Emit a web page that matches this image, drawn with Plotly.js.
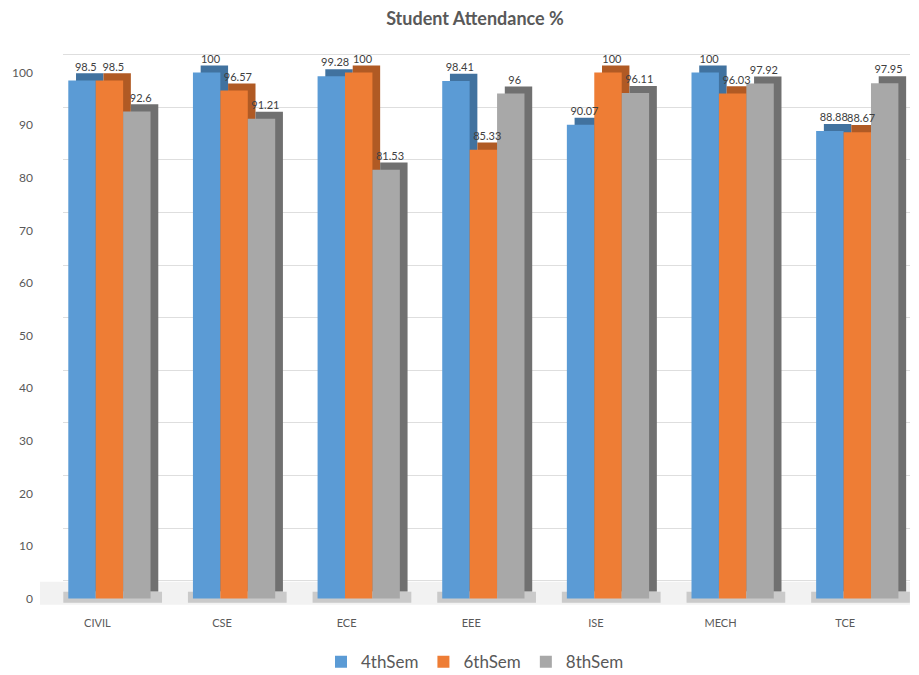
<!DOCTYPE html>
<html>
<head>
<meta charset="utf-8">
<script src="https://cdn.plot.ly/plotly-3.0.1.min.js"></script>
<style>html,body{margin:0;padding:0;background:#fff;}#chart{width:919px;height:675px;}</style>
</head>
<body>
<div id="chart"></div>
<script>
const categories = ["CIVIL", "CSE", "ECE", "EEE", "ISE", "MECH", "TCE"];
const sem4 = [98.5, 100, 99.28, 98.41, 90.07, 100, 88.88];
const sem6 = [98.5, 96.57, 100, 85.33, 100, 96.03, 88.67];
const sem8 = [92.6, 91.21, 81.53, 96, 96.11, 97.92, 97.95];
const seriesNames = ["4thSem", "6thSem", "8thSem"];
const yTicks = [0, 10, 20, 30, 40, 50, 60, 70, 80, 90, 100];

const frontColors = ["#5b9bd5", "#ee7d35", "#a8a8a8"];
const sideColors = ["#41729f", "#b05a24", "#707070"];
const series = [sem4, sem6, sem8];
const offsets = [-0.233, -0.013, 0.207];
const w = 0.22, dx = 0.062, dy = 1.35;
const xs = categories.map((c, i) => i);

const traces = [];
traces.push({x: [0.5], y: [50], type: 'scatter', mode: 'markers', marker: {opacity: 0},
  xaxis: 'x', yaxis: 'y', showlegend: false, hoverinfo: 'skip'});

series.forEach((vals, s) => {
  traces.push({
    type: 'bar', x: xs, y: vals, base: dy, offset: offsets[s] + dx, width: w,
    marker: {color: sideColors[s], line: {width: 0}},
    xaxis: 'x2', yaxis: 'y2', showlegend: false, hoverinfo: 'skip'
  });
  traces.push({
    type: 'bar', x: xs, y: vals, offset: offsets[s], width: w, name: seriesNames[s],
    marker: {color: frontColors[s], line: {width: 0}},
    xaxis: 'x2', yaxis: 'y2'
  });
});

series.forEach((vals, s) => {
  traces.push({
    type: 'scatter', mode: 'text', xaxis: 'x2', yaxis: 'y2', showlegend: false, hoverinfo: 'skip',
    x: xs.map(i => i + offsets[s] + w / 2 + dx / 2),
    y: vals.map(v => v + dy),
    text: vals.map(v => String(v)),
    textposition: 'top center',
    textfont: {family: 'Lato, sans-serif', size: 11, color: '#404040'},
    cliponaxis: false
  });
});

const shapes = [{
  type: 'rect', xref: 'paper', yref: 'y2', x0: 0, x1: 1, y0: -1.2, y1: 3.2,
  fillcolor: '#f2f2f2', line: {width: 0}, layer: 'below'
}];
xs.forEach(i => {
  shapes.push({
    type: 'rect', xref: 'x2', yref: 'y2',
    x0: i + offsets[0] - 0.04, x1: i + offsets[2] + w + dx + 0.03, y0: -0.8, y1: 1.3,
    fillcolor: '#9a9a9a', opacity: 0.45, line: {width: 0}, layer: 'below'
  });
});

const layout = {
  width: 919, height: 675,
  margin: {l: 40, r: 9, t: 41, b: 65.5},
  paper_bgcolor: '#ffffff', plot_bgcolor: 'rgba(0,0,0,0)',
  font: {family: 'Lato, sans-serif', color: '#595959'},
  title: {text: '<b>Student Attendance %</b>', xref: 'paper', x: 0.5, y: 0.973, yanchor: 'middle',
    font: {family: 'Lato, sans-serif', size: 18, color: '#595959'}},
  barmode: 'overlay',
  xaxis: {domain: [0.027, 1], range: [0, 1], visible: false, fixedrange: true},
  yaxis: {domain: [0, 1], range: [-5.4, 102.6], tickmode: 'array', tickvals: yTicks,
    showgrid: true, gridcolor: '#dedede', gridwidth: 1, showticklabels: false,
    zeroline: false, showline: false, ticks: ''},
  xaxis2: {domain: [0, 1], range: [-0.46, 6.52], anchor: 'y2', tickmode: 'array',
    tickvals: xs, ticktext: categories, showgrid: false, zeroline: false, showline: false,
    ticks: '', automargin: false, ticklabelstandoff: 6, tickfont: {size: 11, color: '#595959'}},
  yaxis2: {domain: [0, 1], range: [-2, 106], anchor: 'x2', tickmode: 'array', tickvals: yTicks,
    showgrid: false, zeroline: false, showline: false, ticks: '', automargin: false,
    ticklabelstandoff: 6, tickfont: {size: 12, color: '#595959'}},
  shapes: shapes,
  showlegend: true,
  legend: {orientation: 'h', x: 0.5, xanchor: 'center', xref: 'paper', yref: 'container',
    y: 0.019, yanchor: 'middle', font: {size: 17, color: '#595959'}, traceorder: 'normal'}
};

Plotly.newPlot('chart', traces, layout, {displayModeBar: false, staticPlot: true});
</script>
</body>
</html>
